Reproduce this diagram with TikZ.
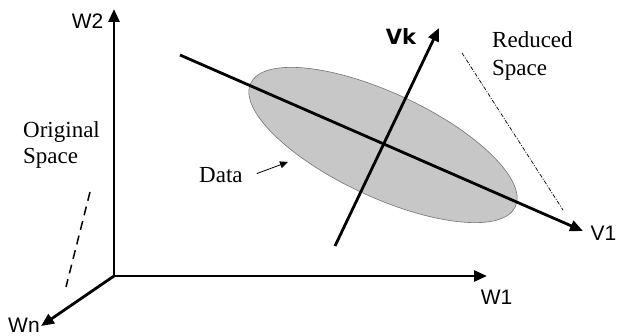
\documentclass[tikz,border=0pt]{standalone}
\usepackage{fontspec}
\setmainfont{Liberation Serif}
\newfontfamily\lsans{Liberation Sans}
\newfontfamily\dsans{DejaVu Sans}
\usetikzlibrary{arrows.meta,shapes.geometric}
\begin{document}
\begin{tikzpicture}[x=1pt,y=1pt,
  axis/.style={line width=2.8pt,-{Triangle[length=13pt,width=11pt]}},
  axlabel/.style={font=\lsans\fontsize{21}{25}\selectfont,anchor=base,inner sep=0pt},
  serifl/.style={font=\fontsize{23}{27}\selectfont,anchor=base west,inner sep=0pt},
  dataellipse/.style={ellipse,draw=black!55,line width=0.6pt,fill=black!22,
    minimum width=292pt,minimum height=104pt,inner sep=0pt}]
\useasboundingbox (0,0) rectangle (618,-336);
% axes
\coordinate (O) at (114,-276);
\coordinate (W2t) at (114,-9);
\coordinate (W1t) at (487,-276);
\coordinate (Wnt) at (41,-326);
% data ellipse
\node[dataellipse,rotate=-25] (E) at (383,-145) {};
\draw[axis] (O) -- (W2t);
\draw[axis] (O) -- (W1t);
\draw[axis] (O) -- (Wnt);
\node[axlabel] (W2) at (87.5,-29) {W2};
\node[axlabel] (W1) at (496.5,-305) {W1};
\node[axlabel] (Wn) at (24,-333) {Wn};
% reduced axes
\coordinate (V1s) at (180,-55);
\coordinate (V1t) at (583,-231);
\coordinate (Vks) at (335,-246);
\coordinate (Vkt) at (439,-28);
\draw[axis] (V1s) -- (V1t);
\draw[axis] (Vks) -- (Vkt);
\node[axlabel] (V1) at (603.5,-241) {V1};
\node[axlabel,font=\dsans\bfseries\fontsize{21}{25}\selectfont] (Vk) at (401,-45) {Vk};
% original space
\node[serifl] (orig1) at (23,-138) {Original};
\node[serifl] (orig2) at (23,-164) {Space};
\coordinate (os1) at (90,-192);
\coordinate (os2) at (66,-287);
\draw[line width=1.5pt,dash pattern=on 9pt off 6pt] (os1) -- (os2);
% reduced space
\node[serifl] (red1) at (492,-48) {Reduced};
\node[serifl] (red2) at (492,-76) {Space};
\coordinate (rs1) at (462,-53);
\coordinate (rs2) at (563,-210);
\draw[line width=0.7pt,dash pattern=on 4pt off 1.5pt on 1pt off 1.5pt] (rs1) -- (rs2);
% data label
\node[serifl] (data) at (199,-183) {Data};
\coordinate (dt) at (288,-162);
\draw[line width=0.8pt,-{Triangle[length=8pt,width=7pt]}] (data.east) ++(14,2) -- (dt);
\end{tikzpicture}
\end{document}
